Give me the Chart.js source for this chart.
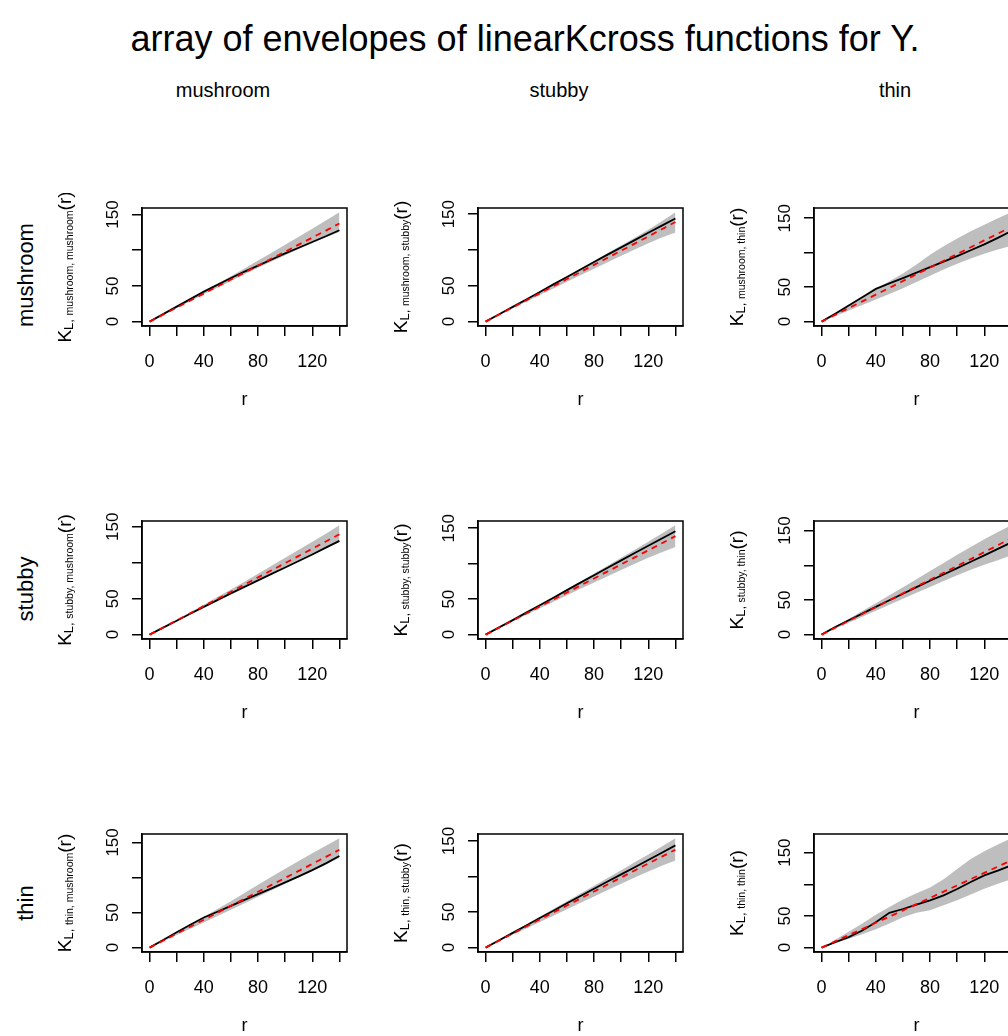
<!DOCTYPE html>
<html>
<head>
<meta charset="utf-8">
<script src="https://cdn.jsdelivr.net/npm/chart.js@4.4.0/dist/chart.umd.min.js"></script>
<style>
  html, body { margin: 0; padding: 0; background: #fff; overflow: hidden; }
  body { width: 1008px; height: 1036px; position: relative; font-family: "Liberation Sans", Arial, sans-serif; color: #000; }
  .txt { position: absolute; white-space: nowrap; }
  #title { left: 0; width: 1050px; top: 19px; text-align: center; font-size: 36px; line-height: 40px; }
  .colhead { width: 200px; text-align: center; font-size: 20px; line-height: 24px; top: 78px; }
  .rowhead { width: 200px; text-align: center; font-size: 22px; line-height: 24px; transform: rotate(-90deg); }
  canvas { position: absolute; }
</style>
</head>
<body>
<div id="title" class="txt">array of envelopes of linearKcross functions for Y.</div>

<script>
// distance r (x) and axis ticks
const rVals = [0, 10, 20, 30, 40, 50, 60, 70, 80, 90, 100, 110, 120, 130, 140]
const xTicks = [0, 20, 40, 60, 80, 100, 120, 140]
const xTickLabels = [0, 40, 80, 120]
const yTicks = [0, 50, 100, 150]
const yTickLabels = [0, 50, 150]
const types = ['mushroom', 'stubby', 'thin']

// mushroom, mushroom
const obsMM = [0, 10.5, 21, 31.5, 42, 51.5, 61, 70, 78.5, 87, 95.5, 103.5, 111.5, 119.5, 128]
const theoMM = [0, 9.8, 19.7, 29.5, 39.3, 49.1, 58.9, 68.7, 78.5, 88.3, 98.1, 107.9, 117.7, 127.5, 137.4]
const hiMM = [0, 10.6, 21.2, 31.8, 42.4, 53, 63.5, 74.5, 85.5, 96.5, 107.5, 119, 130, 141.5, 153]
const loMM = [0, 9.5, 19, 28.6, 38.2, 47.6, 57, 66.2, 75.3, 84.2, 93, 101.6, 110, 118, 125.5]
// mushroom, stubby
const obsMS = [0, 10.3, 20.6, 31, 41.4, 52, 62.4, 72.8, 83.2, 93.5, 103.7, 113.8, 124, 134, 144]
const theoMS = [0, 9.9, 19.8, 29.7, 39.6, 49.5, 59.4, 69.3, 79.2, 89.1, 99, 108.9, 118.9, 128.9, 139]
const hiMS = [0, 10.5, 21, 31.6, 42.2, 52.9, 63.5, 74.2, 85, 95.7, 106.4, 117.2, 128.2, 140, 152.5]
const loMS = [0, 9.3, 18.6, 27.9, 37.2, 46.4, 55.6, 64.7, 73.8, 82.9, 92, 100.8, 109.5, 117.5, 124.5]
// mushroom, thin
const obsMT = [0, 11.5, 23.5, 35.5, 47.5, 55.5, 63, 71, 79, 87, 95, 103.5, 112, 121.5, 131.5]
const theoMT = [0, 9.8, 19.6, 29.4, 39.2, 49, 58.9, 68.7, 78.5, 88.3, 98.1, 107.9, 117.8, 127.6, 137.4]
const hiMT = [0, 11.8, 23.5, 35.2, 47, 58.5, 70, 83, 97, 109.5, 120.5, 131, 140.5, 150, 158.5]
const loMT = [0, 8, 16, 24, 32, 40.2, 48.5, 57.5, 66.5, 75.5, 84, 91.5, 98.5, 104.5, 110]
// stubby, mushroom
const obsSM = [0, 9.7, 19.4, 29, 38.6, 48, 57.4, 66.5, 75.5, 84.5, 93.4, 102.4, 111.5, 121, 130.4]
const theoSM = [0, 9.9, 19.9, 29.8, 39.8, 49.7, 59.7, 69.6, 79.6, 89.5, 99.5, 109.5, 119.5, 129.6, 139.7]
const hiSM = [0, 10.3, 20.7, 31.1, 41.6, 52.2, 62.8, 73.6, 84.6, 95.7, 106.8, 118, 129.2, 140.5, 152]
const loSM = [0, 9.5, 19.1, 28.6, 38.1, 47.5, 56.9, 66.2, 75.4, 84.5, 93.5, 102.5, 111.3, 120, 128.5]
// stubby, stubby
const obsSS = [0, 10.2, 20.5, 31, 41.5, 52, 62.7, 73.3, 83.8, 94.3, 104.7, 115, 125.2, 135.5, 145.8]
const theoSS = [0, 9.9, 19.8, 29.7, 39.6, 49.5, 59.4, 69.3, 79.2, 89.1, 99, 108.9, 118.8, 128.8, 138.8]
const hiSS = [0, 10.5, 21, 31.6, 42.3, 53.1, 64, 75, 86, 97.1, 108.2, 119.5, 131, 142.4, 154]
const loSS = [0, 9.3, 18.6, 27.9, 37.2, 46.4, 55.5, 64.5, 73.5, 82.4, 91.2, 100, 108.5, 116.2, 123.5]
// stubby, thin
const obsST = [0, 11, 20.8, 30.3, 40, 49.6, 59, 68.4, 77.6, 86.7, 95.8, 105, 114.2, 123.6, 133]
const theoST = [0, 9.9, 19.8, 29.7, 39.6, 49.5, 59.4, 69.3, 79.2, 89.1, 99, 108.9, 118.9, 128.9, 139]
const hiST = [0, 11.3, 22.6, 34, 45.4, 56.8, 68.2, 79.8, 91.6, 103.4, 115, 126.5, 137.5, 148, 157.5]
const loST = [0, 8.6, 17.2, 25.8, 34.4, 43, 51.6, 60.2, 68.8, 77.2, 85.5, 93.6, 100.6, 107.4, 114.5]
// thin, mushroom
const obsTM = [0, 11, 22, 32.6, 43, 51.2, 59.6, 68, 76.4, 84.6, 93, 101.6, 110.6, 120.2, 130.6]
const theoTM = [0, 9.9, 19.9, 29.8, 39.8, 49.7, 59.7, 69.6, 79.6, 89.5, 99.5, 109.4, 119.4, 129.4, 139.5]
const hiTM = [0, 10.7, 21.5, 32.5, 43.8, 55, 66.2, 77.8, 89.6, 101.2, 112.5, 123.6, 134.5, 145.2, 155.8]
const loTM = [0, 9, 18, 27, 36, 45, 54, 63.2, 72.5, 81.8, 91, 100, 109.2, 118.6, 128]
// thin, stubby
const obsTS = [0, 10.4, 20.8, 31.2, 41.6, 52, 62.4, 72.6, 82.9, 93, 103.1, 113.2, 123.3, 133.6, 143.9]
const theoTS = [0, 9.9, 19.8, 29.7, 39.6, 49.5, 59.3, 69.2, 79.1, 88.9, 98.8, 108.6, 118.4, 128.1, 137.8]
const hiTS = [0, 10.7, 21.5, 32.4, 43.4, 54.4, 65.3, 76.1, 87, 98, 109.1, 120.2, 131.2, 142.3, 153.8]
const loTS = [0, 9, 18, 27, 36, 45, 54, 63, 72, 81, 90, 98.8, 107.2, 115.2, 122.7]
// thin, thin
const obsTT = [0, 8.5, 16.5, 27, 40, 55, 61, 68, 74.5, 82.5, 92.5, 103.5, 114, 121.5, 130]
const theoTT = [0, 9.9, 19.7, 29.4, 39.2, 49, 58.8, 68.6, 78.5, 88.4, 98.3, 108.2, 118.1, 128, 137.9]
const hiTT = [0, 12.5, 25, 38, 52, 64, 76, 86, 95, 108, 124, 140, 152, 163, 172.5]
const loTT = [0, 7, 14, 21, 29, 38, 48, 55, 59, 67, 75, 84, 93, 101, 108]

const panels = [
  [[obsMM, theoMM, hiMM, loMM], [obsMS, theoMS, hiMS, loMS], [obsMT, theoMT, hiMT, loMT]],
  [[obsSM, theoSM, hiSM, loSM], [obsSS, theoSS, hiSS, loSS], [obsST, theoST, hiST, loST]],
  [[obsTM, theoTM, hiTM, loTM], [obsTS, theoTS, hiTS, loTS], [obsTT, theoTT, hiTT, loTT]]
]

const FONT = '"Liberation Sans", Arial, sans-serif'
const boxW = 205, boxH = 118
const padLeft = 100, padTop = 15, padRight = 10, xAxisH = 90

// column headers and row labels
types.forEach((t, k) => {
  let ch = document.createElement('div')
  ch.className = 'txt colhead'
  ch.innerText = t
  ch.style.left = (223 + 336 * k - 100) + 'px'
  document.body.appendChild(ch)

  let rh = document.createElement('div')
  rh.className = 'txt rowhead'
  rh.innerText = t
  rh.style.left = (26 - 100) + 'px'
  rh.style.top = (275 + 314 * k - 12) + 'px'
  document.body.appendChild(rh)
})

const boxPlugin = {
  id: 'rbox',
  afterDraw(chart) {
    const ctx = chart.ctx
    const a = chart.chartArea
    const ys = chart.scales.y
    ctx.save()
    ctx.strokeStyle = '#000'
    ctx.lineWidth = 1.5
    ctx.strokeRect(a.left, a.top, a.right - a.left, a.bottom - a.top)

    // y tick labels, parallel to the axis like R draws them
    ctx.fillStyle = '#000'
    ctx.font = '17px ' + FONT
    ctx.textAlign = 'center'
    ctx.textBaseline = 'alphabetic'
    yTickLabels.forEach(v => {
      ctx.save()
      ctx.translate(a.left - 24, ys.getPixelForValue(v))
      ctx.rotate(-Math.PI / 2)
      ctx.fillText(String(v), 0, 0)
      ctx.restore()
    })

    // y axis title K_{L, a, b}(r)
    const sub = chart.options.plugins.rbox.sub
    const big = '19px ' + FONT, mid = '13px ' + FONT, small = '10.5px ' + FONT
    ctx.font = big
    const wK = ctx.measureText('K').width
    const wR = ctx.measureText('(r)').width
    ctx.font = mid
    const wL = ctx.measureText('L, ').width
    ctx.font = small
    const wS = ctx.measureText(sub).width
    ctx.translate(a.left - 71, (a.top + a.bottom) / 2)
    ctx.rotate(-Math.PI / 2)
    ctx.textAlign = 'left'
    let cx = -(wK + wL + wS + wR) / 2
    ctx.font = big; ctx.fillText('K', cx, 0); cx += wK
    ctx.font = mid; ctx.fillText('L, ', cx, 2); cx += wL
    ctx.font = small; ctx.fillText(sub, cx, 2); cx += wS
    ctx.font = big; ctx.fillText('(r)', cx, 0)
    ctx.restore()
  }
}

panels.forEach((rowArr, i) => {
  rowArr.forEach((series, j) => {
    let [obs, theo, hi, lo] = series
    let boxLeft = 142 + 336 * j
    let boxTop = 208 + 313 * i

    let cv = document.createElement('canvas')
    cv.width = padLeft + boxW + padRight
    cv.height = padTop + boxH + xAxisH
    cv.style.left = (boxLeft - padLeft) + 'px'
    cv.style.top = (boxTop - padTop) + 'px'
    document.body.appendChild(cv)

    let ymax = Math.max(...obs, ...theo, ...hi, ...lo)
    let toPts = arr => rVals.map((r, k) => ({ x: r, y: arr[k] }))

    new Chart(cv.getContext('2d'), {
      type: 'line',
      data: {
        datasets: [
          { data: toPts(theo), borderColor: '#ff0000', borderWidth: 1.8, borderDash: [6, 5], pointRadius: 0, fill: false },
          { data: toPts(obs), borderColor: '#000000', borderWidth: 1.8, pointRadius: 0, fill: false },
          { data: toPts(hi), borderColor: 'rgba(0,0,0,0)', borderWidth: 0, pointRadius: 0, backgroundColor: '#bebebe', fill: '+1' },
          { data: toPts(lo), borderColor: 'rgba(0,0,0,0)', borderWidth: 0, pointRadius: 0, fill: false }
        ]
      },
      options: {
        responsive: false,
        animation: false,
        devicePixelRatio: 1,
        events: [],
        layout: { padding: { top: padTop, right: padRight, bottom: 0, left: 0 } },
        plugins: {
          legend: { display: false },
          tooltip: { enabled: false },
          rbox: { sub: `${types[i]}, ${types[j]}` }
        },
        elements: { line: { tension: 0 } },
        scales: {
          x: {
            type: 'linear',
            bounds: 'data',
            min: -0.04 * 140,
            max: 140 * 1.04,
            afterBuildTicks: s => { s.ticks = xTicks.map(v => ({ value: v })) },
            afterFit: s => { s.height = xAxisH },
            grid: { drawOnChartArea: false, drawTicks: true, tickLength: 10, color: '#000', lineWidth: 1.5 },
            border: { display: true, color: '#000', width: 1.5 },
            ticks: {
              padding: 15,
              color: '#000',
              font: { family: FONT, size: 18 },
              maxRotation: 0,
              autoSkip: false,
              callback: v => xTickLabels.includes(v) ? String(v) : ''
            },
            title: { display: true, text: 'r', color: '#000', font: { family: FONT, size: 18 }, padding: { top: 0, bottom: 5 } }
          },
          y: {
            type: 'linear',
            bounds: 'data',
            min: -0.04 * ymax,
            max: 1.04 * ymax,
            afterBuildTicks: s => { s.ticks = yTicks.map(v => ({ value: v })) },
            afterFit: s => { s.width = padLeft },
            grid: { drawOnChartArea: false, drawTicks: true, tickLength: 10, color: '#000', lineWidth: 1.5 },
            border: { display: true, color: '#000', width: 1.5 },
            ticks: { display: false }
          }
        }
      },
      plugins: [boxPlugin]
    })
  })
})
</script>
</body>
</html>
